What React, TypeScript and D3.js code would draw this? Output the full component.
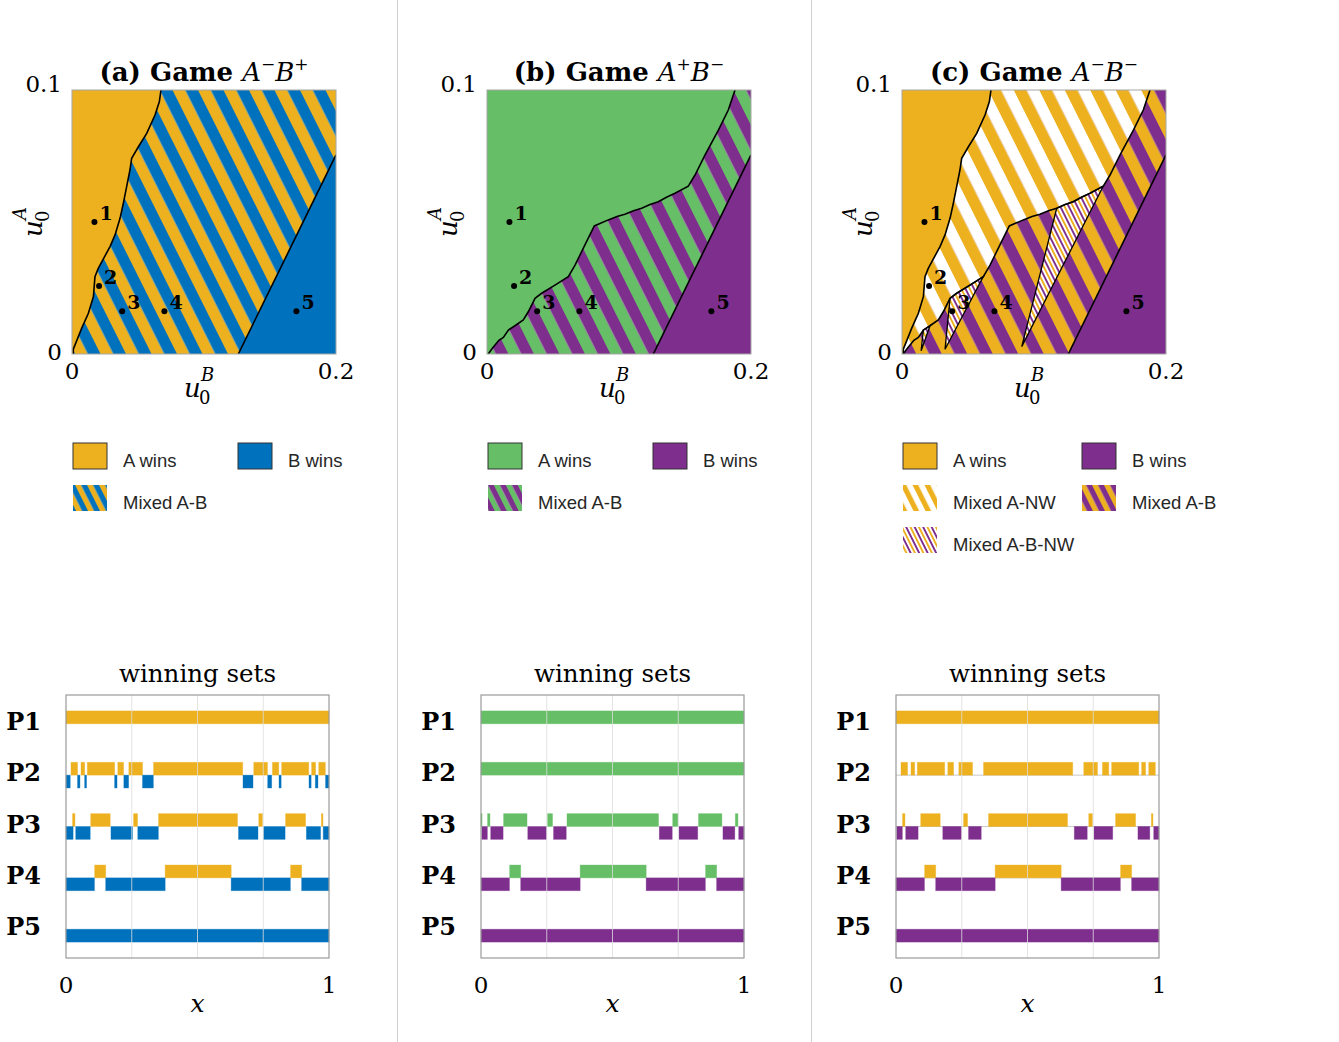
import React from "react";
import * as d3 from "d3";

type Pt = [number, number];
type Seg = [number, number];

const ORANGE = "#EDB120";
const BLUE = "#0072BD";
const GREEN = "#66BE66";
const PURPLE = "#7E2F8E";

// panel titles
const panelTags = ["(a)", "(b)", "(c)"];
const gameSigns = [["\u2212", "+"], ["+", "\u2212"], ["\u2212", "\u2212"]];

// initial conditions (u0B, u0A) of the five sample points
const pointLabels = ["1", "2", "3", "4", "5"];
const pointU0B = [0.017, 0.0205, 0.038, 0.07, 0.17];
const pointU0A = [0.05, 0.0258, 0.0162, 0.0162, 0.0162];

// boundary: A wins (left) / mixed
const boundaryA: Pt[] = [
  [0.001, 0], [0.001, 0.0018], [0.0073, 0.0097], [0.0124, 0.0154], [0.0162, 0.0217],
  [0.0174, 0.0293], [0.0199, 0.0324], [0.0288, 0.0407], [0.0326, 0.0451],
  [0.0364, 0.0514], [0.0389, 0.0571], [0.0414, 0.0634], [0.0439, 0.0697],
  [0.0452, 0.0741], [0.0503, 0.0785], [0.0566, 0.0836], [0.0629, 0.0905],
  [0.0662, 0.0956], [0.0674, 0.1],
];

// boundary: A wins for A+ (above) / B can win
const boundaryA2: Pt[] = [
  [0.001, 0], [0.0035, 0.0018], [0.0061, 0.0034], [0.009, 0.0052], [0.0124, 0.0063],
  [0.0162, 0.0091], [0.0212, 0.0107], [0.0275, 0.0129], [0.0313, 0.016],
  [0.0364, 0.0211], [0.0414, 0.023], [0.0515, 0.0261], [0.0616, 0.0293],
  [0.0667, 0.0337], [0.0742, 0.0413], [0.0813, 0.0485], [0.0919, 0.0508],
  [0.0985, 0.0521], [0.1045, 0.0529], [0.111, 0.0543], [0.1172, 0.0552],
  [0.1235, 0.0566], [0.1298, 0.0577], [0.136, 0.0594], [0.1424, 0.0609],
  [0.1525, 0.0636], [0.1576, 0.0678], [0.1652, 0.0754], [0.1753, 0.0848],
  [0.1828, 0.0924], [0.1879, 0.1],
];

// boundary: mixed / B wins
const boundaryB: Pt[] = [[0.126, 0], [0.2, 0.0754]];

// A-B-NW pockets in game A-B-
const pocket1: Pt[] = [
  [0.1172, 0.0552], [0.1235, 0.0566], [0.1298, 0.0577], [0.136, 0.0594],
  [0.1424, 0.0609], [0.1525, 0.0636], [0.0907, 0.0028],
];
const pocket2: Pt[] = [
  [0.0364, 0.0211], [0.0414, 0.023], [0.0515, 0.0261], [0.0616, 0.0293], [0.0326, 0.0018],
];
const pocket3: Pt[] = [[0.0162, 0.0091], [0.0212, 0.0107], [0.0145, 0.0012]];

// winning sets on [0,1], one list per player P1..P5
const playerLabels = ["P1", "P2", "P3", "P4", "P5"];
const winA_minus: Seg[][] = [
  [[0, 1]],
  [[0.019, 0.044], [0.057, 0.071], [0.081, 0.185], [0.197, 0.219], [0.239, 0.291],
   [0.333, 0.672], [0.714, 0.766], [0.785, 0.809], [0.82, 0.923], [0.934, 0.949], [0.961, 0.986]],
  [[0.025, 0.034], [0.094, 0.168], [0.257, 0.272], [0.352, 0.652], [0.733, 0.747],
   [0.835, 0.911], [0.971, 0.977]],
  [[0.109, 0.151], [0.377, 0.628], [0.854, 0.896]],
  [],
];
const winB_plus: Seg[][] = [
  [],
  [[0, 0.016], [0.044, 0.053], [0.071, 0.078], [0.185, 0.194], [0.22, 0.238], [0.291, 0.332],
   [0.673, 0.711], [0.767, 0.782], [0.81, 0.818], [0.924, 0.932], [0.948, 0.958], [0.987, 1]],
  [[0, 0.027], [0.037, 0.092], [0.171, 0.253], [0.273, 0.351], [0.656, 0.73], [0.751, 0.833],
   [0.914, 0.968], [0.978, 1]],
  [[0, 0.108], [0.151, 0.377], [0.628, 0.853], [0.896, 1]],
  [[0, 1]],
];
const winA_plus: Seg[][] = [
  [[0, 1]],
  [[0, 1]],
  [[0, 0.004], [0.025, 0.034], [0.086, 0.175], [0.253, 0.272], [0.327, 0.675], [0.729, 0.749],
   [0.827, 0.916], [0.967, 0.977]],
  [[0.109, 0.151], [0.377, 0.628], [0.854, 0.896]],
  [],
];
const winB_minus: Seg[][] = [
  [],
  [],
  [[0.003, 0.024], [0.037, 0.084], [0.178, 0.249], [0.276, 0.324], [0.678, 0.727],
   [0.753, 0.824], [0.92, 0.965], [0.98, 1]],
  [[0, 0.108], [0.151, 0.377], [0.628, 0.853], [0.896, 1]],
  [[0, 1]],
];

const SERIF = "'DejaVu Serif', serif";
const SANS = "'Liberation Sans', Arial, sans-serif";

const Stripes = ({ id, colors, period }: { id: string; colors: string[]; period: number }) => {
  const w = period / colors.length;
  return (
    <pattern id={id} patternUnits="userSpaceOnUse" width={period} height={period}
      patternTransform="rotate(-26.57)">
      {colors.map((c, i) => (
        <rect key={i} x={i * w} y={0} width={w + 0.05} height={period} fill={c} />
      ))}
    </pattern>
  );
};

const closed = (pts: Pt[], x: d3.ScaleLinear<number, number>, y: d3.ScaleLinear<number, number>) =>
  d3.line<Pt>().x((d) => x(d[0])).y((d) => y(d[1]))(pts) + "Z";

const TopPanel = ({ k }: { k: number }) => {
  const left = 72 + 415 * k;
  const x = d3.scaleLinear().domain([0, 0.2]).range([left, left + 264]);
  const y = d3.scaleLinear().domain([0, 0.1]).range([354, 90]);
  const line = d3.line<Pt>().x((d) => x(d[0])).y((d) => y(d[1]));
  const aCol = k === 1 ? GREEN : ORANGE;
  const bCol = k === 0 ? BLUE : PURPLE;
  const aRegion: Pt[] = k === 1
    ? [[0, 0], ...boundaryA2, [0, 0.1]]
    : [[0, 0], ...boundaryA, [0, 0.1]];
  const bRegion: Pt[] = [...boundaryB, [0.2, 0]];
  const nwRegion: Pt[] = [...boundaryA2, ...boundaryA.slice().reverse()];
  const cx = (left + left + 264) / 2;
  return (
    <g>
      <clipPath id={`clip${k}`}>
        <rect x={left} y={90} width={264} height={264} />
      </clipPath>
      <g clipPath={`url(#clip${k})`}>
        <rect x={left} y={90} width={264} height={264} fill={`url(#mix${k})`} />
        {k === 2 && <path d={closed(nwRegion, x, y)} fill="url(#mixANW)" />}
        <path d={closed(aRegion, x, y)} fill={aCol} />
        {k === 2 && [pocket1, pocket2, pocket3].map((p, i) => (
          <path key={i} d={closed(p, x, y)} fill="url(#mixABNW)" stroke="#000" strokeWidth={1.3} />
        ))}
        <path d={closed(bRegion, x, y)} fill={bCol} />
        {k !== 1 && <path d={line(boundaryA)!} fill="none" stroke="#000" strokeWidth={1.6} />}
        {k !== 0 && <path d={line(boundaryA2)!} fill="none" stroke="#000" strokeWidth={1.6} />}
        <path d={line(boundaryB)!} fill="none" stroke="#000" strokeWidth={1.6} />
      </g>
      <rect x={left} y={90} width={264} height={264} fill="none" stroke="#a6a6a6" strokeWidth={1} />
      {pointLabels.map((lab, i) => (
        <g key={lab}>
          <circle cx={x(pointU0B[i])} cy={y(pointU0A[i])} r={3} fill="#000" />
          <text x={x(pointU0B[i]) + 5} y={y(pointU0A[i]) - 2} fontFamily={SERIF} fontWeight="bold"
            fontSize={19}>{lab}</text>
        </g>
      ))}
      {/* title */}
      <text x={cx} y={81} textAnchor="middle" fontFamily={SERIF} fontSize={26} fill="#000">
        <tspan fontWeight="bold">{panelTags[k]} Game </tspan>
        <tspan fontStyle="italic">A</tspan>
        <tspan fontSize={17} dy={-11}>{gameSigns[k][0]}</tspan>
        <tspan fontStyle="italic" dy={11}>B</tspan>
        <tspan fontSize={17} dy={-11}>{gameSigns[k][1]}</tspan>
      </text>
      {/* ticks */}
      <g fontFamily={SERIF} fontSize={23} fill="#000">
        <text x={left - 10} y={92} textAnchor="end">0.1</text>
        <text x={left - 10} y={360} textAnchor="end">0</text>
        <text x={x(0)} y={379} textAnchor="middle">0</text>
        <text x={x(0.2)} y={379} textAnchor="middle">0.2</text>
      </g>
      {/* x label */}
      <g fontFamily={SERIF} fill="#000">
        <text x={cx - 20} y={397} fontSize={26} fontStyle="italic">u</text>
        <text x={cx - 5} y={404} fontSize={18}>0</text>
        <text x={cx - 3} y={381} fontSize={18} fontStyle="italic">B</text>
      </g>
      {/* y label */}
      <g transform={`translate(${left - 30},217) rotate(-90)`} fontFamily={SERIF} fill="#000">
        <text x={-20} y={0} fontSize={26} fontStyle="italic">u</text>
        <text x={-5} y={7} fontSize={18}>0</text>
        <text x={-3} y={-16} fontSize={18} fontStyle="italic">A</text>
      </g>
    </g>
  );
};

const Legend = ({ k }: { k: number }) => {
  const left = 72 + 415 * k + 1;
  const col2 = k === 2 ? 179 : 165;
  const aCol = k === 1 ? GREEN : ORANGE;
  const bCol = k === 0 ? BLUE : PURPLE;
  const items: { label: string; fill: string; col: number; row: number; edge: boolean }[] = [
    { label: "A wins", fill: aCol, col: 0, row: 0, edge: true },
    { label: "B wins", fill: bCol, col: 1, row: 0, edge: true },
  ];
  if (k === 2) {
    items.push({ label: "Mixed A-NW", fill: "url(#legANW)", col: 0, row: 1, edge: false });
    items.push({ label: "Mixed A-B", fill: `url(#leg${k})`, col: 1, row: 1, edge: false });
    items.push({ label: "Mixed A-B-NW", fill: "url(#legABNW)", col: 0, row: 2, edge: false });
  } else {
    items.push({ label: "Mixed A-B", fill: `url(#leg${k})`, col: 0, row: 1, edge: false });
  }
  return (
    <g>
      {items.map((it) => {
        const sx = left + (it.col ? col2 : 0);
        const sy = 443 + it.row * 42;
        return (
          <g key={it.label}>
            <rect x={sx} y={sy} width={34} height={26} fill={it.fill}
              stroke={it.edge ? "#333" : "none"} strokeWidth={1} />
            <text x={sx + 50} y={sy + 24} fontFamily={SANS} fontSize={18.5} fill="#262626">{it.label}</text>
          </g>
        );
      })}
    </g>
  );
};

const BottomPanel = ({ k }: { k: number }) => {
  const left = 66 + 415 * k;
  const x = d3.scaleLinear().domain([0, 1]).range([left, left + 263]);
  const y = d3.scaleLinear().domain([0.44, 5.56]).range([695, 958]);
  const aSets = k === 1 ? winA_plus : winA_minus;
  const bSets = k === 0 ? winB_plus : winB_minus;
  const aCol = k === 1 ? GREEN : ORANGE;
  const bCol = k === 0 ? BLUE : PURPLE;
  const h = 0.25;
  return (
    <g>
      <text x={x(0.5)} y={682} textAnchor="middle" fontFamily={SERIF} fontSize={24.5} fill="#000">
        winning sets
      </text>
      {k === 2 && [2, 3, 4].map((r) => (
        <line key={r} x1={x(0)} x2={x(1)} y1={y(r)} y2={y(r)} stroke="#c8c8c8" strokeWidth={1} />
      ))}
      {playerLabels.map((p, i) => (
        <g key={p}>
          {aSets[i].map((s, j) => (
            <rect key={"a" + j} x={x(s[0])} width={x(s[1]) - x(s[0])} y={y(i + 1 - h)}
              height={y(i + 1) - y(i + 1 - h)} fill={aCol} stroke={aCol} strokeOpacity={0.45}
              strokeWidth={0.8} />
          ))}
          {bSets[i].map((s, j) => (
            <rect key={"b" + j} x={x(s[0])} width={x(s[1]) - x(s[0])} y={y(i + 1)}
              height={y(i + 1 + h) - y(i + 1)} fill={bCol} stroke={bCol} strokeOpacity={0.45}
              strokeWidth={0.8} />
          ))}
          <text x={left - 25} y={y(i + 1) + 6} textAnchor="end" fontFamily={SERIF} fontWeight="bold"
            fontSize={24} fill="#000">{p}</text>
        </g>
      ))}
      {[0.25, 0.5, 0.75].map((t) => (
        <line key={t} x1={x(t)} x2={x(t)} y1={695} y2={958} stroke="#dcdcdc" strokeOpacity={0.8}
          strokeWidth={1} />
      ))}
      <rect x={left} y={695} width={263} height={263} fill="none" stroke="#9a9a9a" strokeWidth={1.2} />
      <g fontFamily={SERIF} fontSize={23} fill="#000">
        <text x={x(0)} y={993} textAnchor="middle">0</text>
        <text x={x(1)} y={993} textAnchor="middle">1</text>
        <text x={x(0.5)} y={1012} textAnchor="middle" fontStyle="italic" fontSize={25}>x</text>
      </g>
    </g>
  );
};

export default function App() {
  return (
    <svg width={1339} height={1042} style={{ position: "absolute", left: 0, top: 0, background: "#fff" }}>
      <defs>
        <Stripes id="mix0" colors={[ORANGE, BLUE]} period={22.8} />
        <Stripes id="mix1" colors={[GREEN, PURPLE]} period={22.8} />
        <Stripes id="mix2" colors={[ORANGE, PURPLE]} period={22.8} />
        <Stripes id="mixANW" colors={[ORANGE, "#fff"]} period={22.8} />
        <Stripes id="mixABNW" colors={[ORANGE, "#fff", PURPLE, "#fff"]} period={7.6} />
        <Stripes id="leg0" colors={[ORANGE, BLUE]} period={10.7} />
        <Stripes id="leg1" colors={[GREEN, PURPLE]} period={10.7} />
        <Stripes id="leg2" colors={[ORANGE, PURPLE]} period={10.7} />
        <Stripes id="legANW" colors={[ORANGE, "#fff"]} period={10.7} />
        <Stripes id="legABNW" colors={[ORANGE, "#fff", PURPLE, "#fff"]} period={7.6} />
      </defs>
      <rect x={0} y={0} width={1339} height={1042} fill="#fff" />
      <line x1={397.5} x2={397.5} y1={0} y2={1042} stroke="#d0d0d0" strokeWidth={1} />
      <line x1={811.5} x2={811.5} y1={0} y2={1042} stroke="#d0d0d0" strokeWidth={1} />
      {[0, 1, 2].map((k) => (
        <g key={k}>
          <TopPanel k={k} />
          <Legend k={k} />
          <BottomPanel k={k} />
        </g>
      ))}
    </svg>
  );
}
